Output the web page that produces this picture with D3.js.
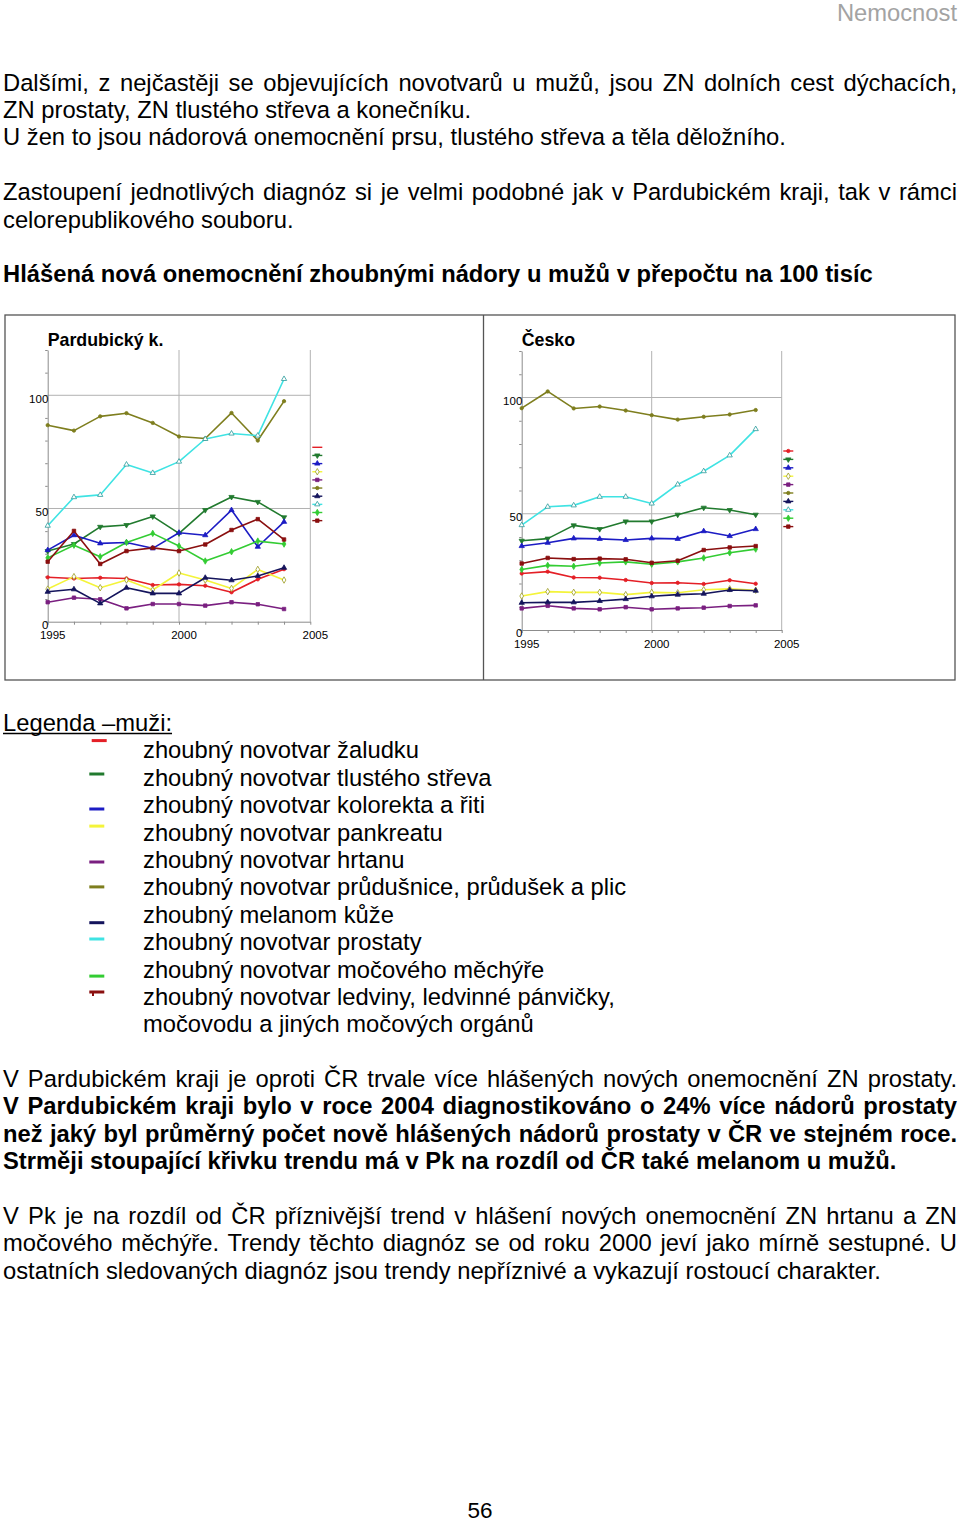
<!DOCTYPE html>
<html><head><meta charset="utf-8">
<script src="https://cdn.jsdelivr.net/npm/d3@7"></script>
<style>
html,body{margin:0;padding:0;background:#fff;}
svg{display:block;}
text{font-family:"Liberation Sans",Arial,Helvetica,sans-serif;}
</style></head><body>
<svg id="page" width="960" height="1524"></svg>
<script>
// ---------------- DATA ----------------
const years = [1995,1996,1997,1998,1999,2000,2001,2002,2003,2004];
const seriesNames = [
  "zhoubný novotvar žaludku",
  "zhoubný novotvar tlustého střeva",
  "zhoubný novotvar kolorekta a řiti",
  "zhoubný novotvar pankreatu",
  "zhoubný novotvar hrtanu",
  "zhoubný novotvar průdušnice, průdušek a plic",
  "zhoubný melanom kůže",
  "zhoubný novotvar prostaty",
  "zhoubný novotvar močového měchýře",
  "zhoubný novotvar ledviny, ledvinné pánvičky,"
];
const legendExtraLine = "močovodu a jiných močových orgánů";

// Pardubický kraj
const pkZaludek   = [19.6,19.1,19.4,19.1,16.2,16.5,15.9,13.0,18.7,23.2];
const pkTlusteStr = [31.2,34.3,41.9,42.7,46.5,39.0,49.3,55.1,52.9,46.1];
const pkKolorekt  = [31.6,38.2,34.6,35.0,32.4,39.3,38.2,49.3,33.1,44.1];
const pkPankreas  = [14.4,19.9,15.0,18.4,14.0,21.5,18.4,14.7,23.1,18.4];
const pkHrtan     = [8.6,10.6,9.9,5.9,7.8,7.8,7.1,8.6,7.7,5.6];
const pkPlice     = [86.8,84.4,90.7,92.1,87.8,81.8,80.9,92.2,80.0,97.4];
const pkMelanom   = [13.2,14.3,8.1,15.0,12.5,12.5,19.4,18.3,20.2,23.8];
const pkProstata  = [42.4,55.0,56.0,69.4,65.7,70.7,80.7,83.1,82.2,107.2];
const pkMechyr    = [28.2,33.8,28.7,35.0,39.0,33.4,26.8,30.9,35.6,34.3];
const pkLedviny   = [26.5,40.1,25.5,31.2,32.6,31.2,34.1,40.5,45.3,36.3];

// Česko
const crZaludek   = [24.3,25.1,22.6,22.5,21.5,20.2,20.3,19.8,21.4,19.9];
const crTlusteStr = [38.4,39.3,45.0,43.4,46.7,46.7,49.6,52.6,51.6,49.6];
const crKolorekt  = [36.1,37.5,39.4,39.2,38.7,39.4,39.2,42.5,40.4,43.4];
const crPankreas  = [14.6,16.5,16.2,16.2,15.2,16.2,16.0,17.3,17.7,17.1];
const crHrtan     = [9.3,10.4,9.3,8.9,9.8,8.9,9.3,9.6,10.3,10.6];
const crPlice     = [95.4,102.6,95.3,96.1,94.4,92.4,90.5,91.7,92.7,94.6];
const crMelanom   = [11.7,11.9,11.9,12.5,13.3,14.5,15.2,15.6,17.2,16.9];
const crProstata  = [45.1,53.0,53.6,57.3,57.3,54.4,62.6,68.3,75.1,86.4];
const crMechyr    = [26.0,27.8,27.4,28.8,29.3,28.3,29.3,31.0,33.2,34.8];
const crLedviny   = [28.6,31.0,30.5,30.7,30.4,28.9,29.8,34.4,35.5,36.1];

const xTickLabels = [1995,2000,2005];
const yTickLabels = [0,50,100];
const chartTitles = ["Pardubický k.","Česko"];

const headerText = "Nemocnost";
const pageNumber = "56";
const introLines = [
  {t:"Dalšími, z nejčastěji se objevujících novotvarů u mužů, jsou ZN dolních cest dýchacích,", j:true},
  {t:"ZN prostaty, ZN tlustého střeva a konečníku.", j:false},
  {t:"U žen to jsou nádorová onemocnění prsu, tlustého střeva a těla děložního.", j:false},
  null,
  {t:"Zastoupení jednotlivých diagnóz si je velmi podobné jak v Pardubickém kraji, tak v rámci", j:true},
  {t:"celorepublikového souboru.", j:false},
  null,
  {t:"Hlášená nová onemocnění zhoubnými nádory u mužů v přepočtu na 100 tisíc", j:false, b:true}
];
const outroLines = [
  {t:"V Pardubickém kraji je oproti ČR trvale více hlášených nových onemocnění ZN prostaty.", j:true},
  {t:"V Pardubickém kraji bylo v roce 2004 diagnostikováno o 24% více nádorů prostaty", j:true, b:true},
  {t:"než jaký byl průměrný počet nově hlášených nádorů prostaty v ČR ve stejném roce.", j:true, b:true},
  {t:"Strměji stoupající křivku trendu má v Pk na rozdíl od ČR také melanom u mužů.", j:false, b:true},
  null,
  {t:"V Pk je na rozdíl od ČR příznivější trend v hlášení nových onemocnění ZN hrtanu a ZN", j:true},
  {t:"močového měchýře. Trendy těchto diagnóz se od roku 2000 jeví jako mírně sestupné. U", j:true},
  {t:"ostatních sledovaných diagnóz jsou trendy nepříznivé a vykazují rostoucí charakter.", j:false}
];

// ---------------- STYLE / LAYOUT ----------------
const colors = ["#e41f26","#217a2e","#1c1cc4","#f4f43a","#7a1f80","#7e7e1e","#14145c","#3fe3e3","#33cc33","#8a0f0f"];
const markerTypes = ["circle","tdown","tup","diamond","square","circle","tup","tup","diamond","square"];
const pkSeries = [pkZaludek,pkTlusteStr,pkKolorekt,pkPankreas,pkHrtan,pkPlice,pkMelanom,pkProstata,pkMechyr,pkLedviny];
const crSeries = [crZaludek,crTlusteStr,crKolorekt,crPankreas,crHrtan,crPlice,crMelanom,crProstata,crMechyr,crLedviny];

const FS = 23.75, LH = 27.4, LEFT = 3, WIDTH = 954;
const svg = d3.select("#page");

function line(str, x, y, o) {
  o = o || {};
  const t = svg.append("text").attr("x", x).attr("y", y)
    .attr("font-size", o.fs || FS)
    .attr("font-weight", o.b ? "bold" : "normal")
    .attr("fill", o.fill || "#000")
    .attr("text-anchor", o.anchor || "start")
    .text(str);
  if (o.j) {
    const w = t.node().getComputedTextLength();
    const n = (str.match(/ /g) || []).length;
    if (n) t.style("word-spacing", ((WIDTH - w) / n) + "px");
  }
  return t;
}

// header / footer
line(headerText, 957, 20.5, {fill:"#a3a3a3", anchor:"end"});
line(pageNumber, 480, 1517.5, {anchor:"middle", fs:22.5});

introLines.forEach((l, i) => { if (l) line(l.t, LEFT, 90.5 + i * LH, l); });
outroLines.forEach((l, i) => { if (l) line(l.t, LEFT, 1086.9 + i * LH, l); });

// big legend
const lg = line("Legenda –muži:", LEFT, 730.5, {});
const lgw = lg.node().getComputedTextLength();
svg.append("line").attr("x1", LEFT).attr("x2", LEFT + lgw).attr("y1", 733.5).attr("y2", 733.5)
  .attr("stroke", "#000").attr("stroke-width", 1.4);
const swatchOff = [-9.3,-3.3,4.3,-6,2.5,0,8.4,-2.7,7,-4.5];
seriesNames.forEach((s, i) => {
  const base = 758.4 + i * LH;
  line(s, 143, base, {});
  const cy = base - 8.5 + swatchOff[i];
  const x1 = i === 0 ? 91.7 : 89.3;
  svg.append("line").attr("x1", x1).attr("x2", x1 + 15).attr("y1", cy).attr("y2", cy)
    .attr("stroke", colors[i]).attr("stroke-width", 3);
  if (i === 9) svg.append("line").attr("x1", 93).attr("x2", 93).attr("y1", cy).attr("y2", cy + 4)
    .attr("stroke", colors[i]).attr("stroke-width", 2);
});
line(legendExtraLine, 143, 758.4 + 10 * LH, {});

// chart frame
svg.append("rect").attr("x", 5).attr("y", 315).attr("width", 950).attr("height", 365)
  .attr("fill", "none").attr("stroke", "#555").attr("stroke-width", 1.3);
svg.append("line").attr("x1", 483.5).attr("x2", 483.5).attr("y1", 315).attr("y2", 680)
  .attr("stroke", "#555").attr("stroke-width", 1.3);

function marker(g, type, cx, cy, col) {
  const symMap = {circle:d3.symbolCircle, tup:d3.symbolTriangle, tdown:d3.symbolTriangle, diamond:d3.symbolDiamond, square:d3.symbolSquare};
  const size = type === "circle" ? 9 : 12;
  const hollow = col === colors[3] || col === colors[7];
  g.append("path").attr("d", d3.symbol().type(symMap[type]).size(size)())
    .attr("transform", `translate(${cx},${cy})` + (type === "tdown" ? " rotate(180)" : ""))
    .attr("fill", hollow ? "#fff" : col)
    .attr("stroke", hollow ? (col === colors[3] ? "#9a9a20" : "#2a9a9a") : col)
    .attr("stroke-width", 0.8);
}

function drawChart(cfg, series, title) {
  const g = svg.append("g");
  const x = d3.scaleLinear().domain([1995, 2005]).range([cfg.x0, cfg.x1]);
  const y = d3.scaleLinear().domain([0, 120]).range([cfg.yb, cfg.yt]);
  // grid
  g.selectAll(".hg").data([50, 100]).join("line")
    .attr("x1", x(1995)).attr("x2", x(2005)).attr("y1", d => y(d)).attr("y2", d => y(d))
    .attr("stroke", "#b2b2b2").attr("stroke-width", 1);
  g.selectAll(".vg").data([2000, 2005]).join("line")
    .attr("x1", d => x(d)).attr("x2", d => x(d)).attr("y1", y(0)).attr("y2", y(120))
    .attr("stroke", "#b2b2b2").attr("stroke-width", 1);
  // axes
  const ya = g.append("g").attr("transform", `translate(${cfg.x0},0)`)
    .call(d3.axisLeft(y).tickValues(d3.range(0, 121, 10)).tickSize(2.5).tickSizeOuter(0).tickFormat(""));
  const xa = g.append("g").attr("transform", `translate(0,${cfg.yb})`)
    .call(d3.axisBottom(x).tickValues(d3.range(1995, 2006)).tickSize(3).tickSizeOuter(0).tickFormat(""));
  [ya, xa].forEach(a => { a.selectAll("path,line").attr("stroke", "#8c8c8c"); });
  // tick labels
  g.selectAll(".yl").data(yTickLabels).join("text")
    .attr("x", cfg.x0 + 0.6).attr("y", d => y(d) + 7.3).attr("text-anchor", "end")
    .attr("font-size", 11.5).text(d => d);
  g.selectAll(".xl").data(xTickLabels).join("text")
    .attr("x", d => x(d) + 5).attr("y", cfg.yb + 17.5).attr("text-anchor", "middle")
    .attr("font-size", 11.5).text(d => d);
  // title
  g.append("text").attr("x", cfg.x0).attr("y", 346).attr("font-size", 17.8).attr("font-weight", "bold").text(title);
  // lines
  const ln = d3.line().x((d, i) => x(years[i])).y(d => y(d));
  series.forEach((vals, k) => {
    g.append("path").attr("d", ln(vals)).attr("fill", "none")
      .attr("stroke", colors[k]).attr("stroke-width", 1.6).attr("stroke-linejoin", "round");
  });
  series.forEach((vals, k) => {
    vals.forEach((v, i) => marker(g, markerTypes[k], x(years[i]), y(v), colors[k]));
  });
  // mini legend
  colors.forEach((c, k) => {
    const ly = cfg.ly + k * cfg.lstep;
    g.append("line").attr("x1", cfg.lx).attr("x2", cfg.lx + 10).attr("y1", ly).attr("y2", ly)
      .attr("stroke", c).attr("stroke-width", 1.4);
    if (!(cfg.noFirstMarker && k === 0)) marker(g, markerTypes[k], cfg.lx + 5, ly, c);
  });
}

drawChart({x0:47.7, x1:310.3, yb:621.7, yt:350, lx:312.3, ly:447.3, lstep:8.15, noFirstMarker:true}, pkSeries, chartTitles[0]);
drawChart({x0:521.7, x1:781.7, yb:630, yt:351, lx:783.3, ly:451, lstep:8.4}, crSeries, chartTitles[1]);
</script>
</body></html>
